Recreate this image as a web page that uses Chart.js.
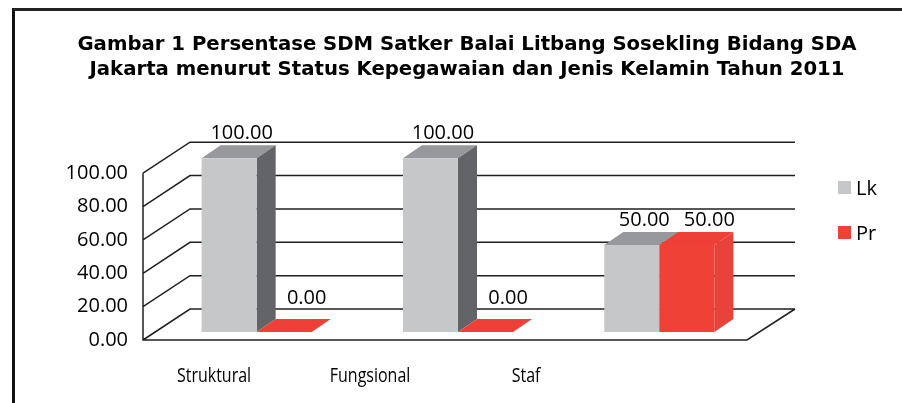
<!DOCTYPE html>
<html lang="id">
<head>
  <meta charset="UTF-8" />
  <title>Gambar 1 Persentase SDM</title>
  <script src="https://cdn.jsdelivr.net/npm/chart.js"></script>
  <style>
    body {
      margin: 0;
      background: #ffffff;
      font-family: 'Open Sans', sans-serif;
    }
    .wrap {
      position: relative;
      width: 902px;
      height: 403px;
    }
    canvas { display: block; }
    .frame {
      position: absolute;
      left: 12px;
      top: 8px;
      right: 0;
      bottom: 0;
      border-left: 3px solid #111;
      border-top: 3px solid #222;
      pointer-events: none;
    }
    .legend {
      position: absolute;
      left: 838px;
      top: 174px;
      display: flex;
      flex-direction: column;
      gap: 19px;
    }
    .legend .item {
      display: flex;
      align-items: center;
      height: 26px;
      font-size: 20px;
      color: #000;
    }
    .legend .box {
      width: 13px;
      height: 13px;
      margin-right: 5px;
    }
  </style>
</head>
<body>
  <div class="wrap">
    <canvas id="chart" width="902" height="403"></canvas>
    <div class="frame"></div>
    <div class="legend" id="legend"></div>
  </div>

  <script>
    const titleLines = [
      'Gambar 1 Persentase SDM Satker Balai Litbang Sosekling Bidang SDA',
      'Jakarta menurut Status Kepegawaian dan Jenis Kelamin Tahun 2011'
    ];
    const categories = ['Struktural', 'Fungsional', 'Staf'];
    const seriesNames = ['Lk', 'Pr'];
    const lkValues = [100, 100, 50];
    const prValues = [0, 0, 50];
    const yTicks = [0, 20, 40, 60, 80, 100];

    // colours: front, top, side
    const lkColors = ['#c6c7c9', '#97989b', '#636467'];
    const prColors = ['#ef4136', '#ee4036', '#e8423a'];

    // 3d look
    const wall = { dx: 47, dy: -31 };      // depth of the back wall
    const barShift = { dx: 13, dy: -8, sy: 1.042 };
    const barDepth = { dx: 19, dy: -13 };
    const lineColor = '#231f20';

    Chart.defaults.font.family = "'Open Sans', sans-serif";
    Chart.defaults.color = '#000';

    function toScreen(chart, x, y) {
      const b = chart.chartArea.bottom;
      return [x + barShift.dx, b + barShift.dy - (b - y) * barShift.sy];
    }

    function poly(ctx, pts, color) {
      ctx.beginPath();
      ctx.moveTo(pts[0][0], pts[0][1]);
      for (let i = 1; i < pts.length; i++) ctx.lineTo(pts[i][0], pts[i][1]);
      ctx.closePath();
      ctx.fillStyle = color;
      ctx.fill();
    }

    const threeD = {
      id: 'threeD',
      beforeDatasetsDraw(chart) {
        const ctx = chart.ctx;
        const { left, right, top, bottom } = chart.chartArea;
        const yScale = chart.scales.y;

        // back wall, left wall and floor
        ctx.save();
        ctx.strokeStyle = lineColor;
        ctx.lineWidth = 1.5;
        ctx.beginPath();
        yTicks.forEach(v => {
          const y = yScale.getPixelForValue(v);
          ctx.moveTo(left, y);
          ctx.lineTo(left + wall.dx, y + wall.dy);
          ctx.lineTo(right + wall.dx + 1, y + wall.dy);
        });
        ctx.moveTo(left, top);
        ctx.lineTo(left, bottom);
        ctx.lineTo(right, bottom);
        ctx.lineTo(right + wall.dx + 1, bottom + wall.dy);
        ctx.stroke();
        ctx.restore();

        // top and side faces, drawn before the fronts
        const sets = [chart.getDatasetMeta(0), chart.getDatasetMeta(1)];
        const cols = [lkColors, prColors];
        categories.forEach((c, i) => {
          sets.forEach((meta, d) => {
            const el = meta.data[i];
            const p = el.getProps(['x', 'y', 'base', 'width'], true);
            const [xl, yt] = toScreen(chart, p.x - p.width / 2, p.y);
            const [, yb] = toScreen(chart, p.x, p.base);
            const xr = xl + p.width;
            const dx = barDepth.dx, dy = barDepth.dy;
            poly(ctx, [[xl, yt], [xr, yt], [xr + dx, yt + dy], [xl + dx, yt + dy]], cols[d][1]);
            if (yb - yt > 0.5) {
              poly(ctx, [[xr, yt], [xr + dx, yt + dy], [xr + dx, yb + dy], [xr, yb]], cols[d][2]);
            }
          });
        });

        ctx.save();
        ctx.translate(barShift.dx, bottom + barShift.dy);
        ctx.scale(1, barShift.sy);
        ctx.translate(0, -bottom);
      },
      afterDatasetsDraw(chart) {
        const ctx = chart.ctx;
        ctx.restore();

        // value labels
        ctx.save();
        ctx.font = "20px 'Open Sans', sans-serif";
        ctx.fillStyle = '#000';
        ctx.textAlign = 'center';
        ctx.textBaseline = 'alphabetic';
        chart.data.datasets.forEach((ds, d) => {
          const meta = chart.getDatasetMeta(d);
          meta.data.forEach((el, i) => {
            const p = el.getProps(['x', 'y'], true);
            const [sx, sy] = toScreen(chart, p.x, p.y);
            const lift = ds.data[i] === 0 ? 15 : 6;
            ctx.fillText(ds.data[i].toFixed(2), sx + barDepth.dx / 2 + 3 + d * 10, sy + barDepth.dy - lift);
          });
        });
        ctx.restore();
      },
      afterDraw(chart) {
        // category labels, pulled left like the perspective of the original,
        // and a bit narrow like the condensed face of the source
        const ctx = chart.ctx;
        const xScale = chart.scales.x;
        const left = chart.chartArea.left;
        ctx.save();
        ctx.font = "20px 'Open Sans', sans-serif";
        ctx.fillStyle = '#000';
        ctx.textAlign = 'center';
        ctx.textBaseline = 'alphabetic';
        categories.forEach((c, i) => {
          const x = left + (xScale.getPixelForValue(i) - left) * 0.775 - 7;
          ctx.save();
          ctx.translate(x, chart.chartArea.bottom + 42);
          ctx.scale(0.8, 1);
          ctx.fillText(c, 0, 0);
          ctx.restore();
        });
        ctx.restore();
      }
    };

    const chart = new Chart(document.getElementById('chart'), {
      type: 'bar',
      data: {
        labels: categories,
        datasets: [
          { label: seriesNames[0], data: lkValues, backgroundColor: lkColors[0] },
          { label: seriesNames[1], data: prValues, backgroundColor: prColors[0] }
        ]
      },
      options: {
        responsive: false,
        animation: false,
        devicePixelRatio: 1,
        layout: { padding: { left: 32, right: 0, top: 0, bottom: 63 } },
        datasets: {
          bar: {
            categoryPercentage: 0.547,
            barPercentage: 1,
            borderWidth: 0,
            clip: false
          }
        },
        plugins: {
          legend: { display: false },
          tooltip: { enabled: false },
          title: {
            display: true,
            text: titleLines,
            color: '#000',
            font: { family: "'DejaVu Sans', sans-serif", size: 19.7, weight: 'bold', lineHeight: 25 / 19.7 },
            padding: { top: 32.5, bottom: 90.66 }
          }
        },
        scales: {
          x: { display: false },
          y: {
            min: 0,
            max: 100,
            afterFit(scale) { scale.width = 111; },
            grid: { display: false, drawTicks: false },
            border: { display: false },
            ticks: {
              stepSize: 20,
              padding: 15,
              font: { size: 20 },
              color: '#000',
              callback: v => v.toFixed(2)
            }
          },
          // empty room on the right for the depth and the legend
          yRight: {
            position: 'right',
            min: 0,
            max: 100,
            afterFit(scale) { scale.width = 155; },
            grid: { display: false, drawTicks: false },
            border: { display: false },
            ticks: { display: false }
          }
        }
      },
      plugins: [threeD]
    });

    // legend as plain html next to the chart
    const legendEl = document.getElementById('legend');
    seriesNames.forEach((name, i) => {
      const item = document.createElement('div');
      item.className = 'item';
      const box = document.createElement('span');
      box.className = 'box';
      box.style.background = [lkColors, prColors][i][0];
      item.appendChild(box);
      item.appendChild(document.createTextNode(name));
      legendEl.appendChild(item);
    });
  </script>
</body>
</html>
